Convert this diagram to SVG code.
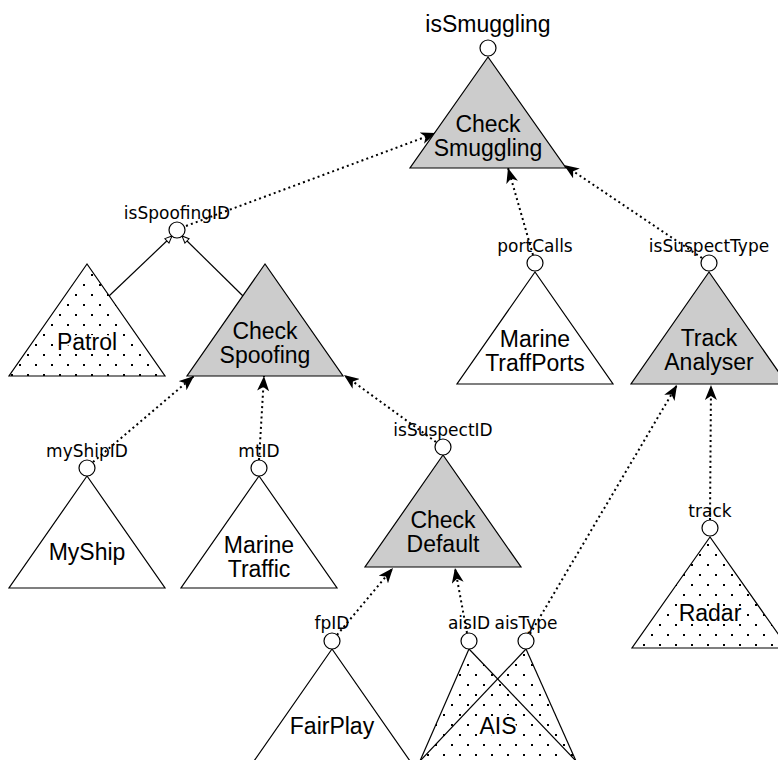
<svg xmlns="http://www.w3.org/2000/svg" width="778" height="760" viewBox="0 0 778 760">
<style>
.tri{stroke:#000;stroke-width:1.2;stroke-linejoin:miter}
.gray{fill:#cccccc}
.white{fill:#ffffff}
.dots{fill:url(#dotpat)}
.port{fill:#fff;stroke:#000;stroke-width:1.2}
.plab{font-family:"DejaVu Sans",sans-serif;font-size:17px;text-anchor:middle;fill:#000}
.nlab{font-family:"Liberation Sans",Arial,sans-serif;font-size:23px;text-anchor:middle;fill:#000}
.halo{stroke:#fff;stroke-width:4;paint-order:stroke;stroke-linejoin:round}
.dep{fill:none;stroke:#000;stroke-width:2;stroke-dasharray:2 3.2;marker-end:url(#arr)}
.sub{fill:none;stroke:#000;stroke-width:1.2;marker-end:url(#open)}
</style>
<defs>
<pattern id="dotpat" width="16" height="20" patternUnits="userSpaceOnUse">
<rect x="3" y="4" width="2" height="2" fill="#000"/>
<rect x="11" y="14" width="2" height="2" fill="#000"/>
</pattern>
<marker id="arr" markerWidth="16" markerHeight="12" refX="15" refY="6" orient="auto" markerUnits="userSpaceOnUse">
<path d="M0,0 L15,6 L0,12 L4,6 z" fill="#000"/>
</marker>
<marker id="open" markerWidth="9" markerHeight="8" refX="8" refY="4" orient="auto" markerUnits="userSpaceOnUse">
<path d="M1,1 L8,4 L1,7 z" fill="#fff" stroke="#000" stroke-width="1"/>
</marker>
</defs>
<rect width="778" height="760" fill="#fff"/>

<g id="connectors">
<line class="dep" x1="186" y1="226" x2="436" y2="133"/>
<line class="dep" x1="533" y1="255" x2="508" y2="168"/>
<line class="dep" x1="702" y1="258" x2="564" y2="165"/>
<line class="dep" x1="93" y1="462" x2="194" y2="376"/>
<line class="dep" x1="259" y1="460" x2="264" y2="376"/>
<line class="dep" x1="436" y1="442" x2="344" y2="375"/>
<line class="dep" x1="337" y1="635" x2="393" y2="568"/>
<line class="dep" x1="467" y1="633" x2="455" y2="568"/>
<line class="dep" x1="530" y1="634" x2="677" y2="385"/>
<line class="dep" x1="710" y1="520" x2="711" y2="385"/>
</g>

<g id="CheckSmuggling">
<polygon class="tri gray" points="488,57 410,168 566,168"/>
<circle class="port" cx="488" cy="48" r="8"/>
<text class="nlab" x="488" y="32">isSmuggling</text>
<text class="nlab" x="488" y="132">Check</text>
<text class="nlab" x="488" y="156">Smuggling</text>
</g>

<g id="isSpoofingID">
<line class="sub" x1="109" y1="296" x2="172" y2="236"/>
<line class="sub" x1="243" y1="296" x2="182" y2="236"/>
<circle class="port" cx="177" cy="230" r="8"/>
<text class="plab" x="177" y="219">isSpoofingID</text>
</g>

<g id="Patrol">
<polygon class="tri white" points="87,264 9,376 165,376"/>
<polygon class="dots" points="87,264 9,376 165,376"/>
<text class="nlab halo" x="87" y="350">Patrol</text>
</g>

<g id="CheckSpoofing">
<polygon class="tri gray" points="265,264 187,376 343,376"/>
<text class="nlab" x="265" y="339">Check</text>
<text class="nlab" x="265" y="363">Spoofing</text>
</g>

<g id="MarineTraffPorts">
<polygon class="tri white" points="535,272 457,384 613,384"/>
<circle class="port" cx="535" cy="263" r="8"/>
<text class="plab" x="535" y="252">portCalls</text>
<text class="nlab" x="535" y="347">Marine</text>
<text class="nlab" x="535" y="371">TraffPorts</text>
</g>

<g id="TrackAnalyser">
<polygon class="tri gray" points="709,272 631,384 787,384"/>
<circle class="port" cx="709" cy="263" r="8"/>
<text class="plab" x="709" y="252">isSuspectType</text>
<text class="nlab" x="709" y="346">Track</text>
<text class="nlab" x="709" y="370">Analyser</text>
</g>

<g id="MyShip">
<polygon class="tri white" points="87,476 9,588 165,588"/>
<circle class="port" cx="87" cy="468" r="8"/>
<text class="plab" x="87" y="457">myShipID</text>
<text class="nlab" x="87" y="560">MyShip</text>
</g>

<g id="MarineTraffic">
<polygon class="tri white" points="259,476 181,588 337,588"/>
<circle class="port" cx="259" cy="468" r="8"/>
<text class="plab" x="259" y="457">mtID</text>
<text class="nlab" x="259" y="553">Marine</text>
<text class="nlab" x="259" y="577">Traffic</text>
</g>

<g id="CheckDefault">
<polygon class="tri gray" points="443,455 365,567 521,567"/>
<circle class="port" cx="443" cy="447" r="8"/>
<text class="plab" x="443" y="436">isSuspectID</text>
<text class="nlab" x="443" y="528">Check</text>
<text class="nlab" x="443" y="552">Default</text>
</g>

<g id="Radar">
<polygon class="tri white" points="710,537 632,648 788,648"/>
<polygon class="dots" points="710,537 632,648 788,648"/>
<circle class="port" cx="710" cy="528" r="8"/>
<text class="plab" x="710" y="517">track</text>
<text class="nlab halo" x="710" y="621">Radar</text>
</g>

<g id="FairPlay">
<polygon class="tri white" points="332,649 254,761 410,761"/>
<circle class="port" cx="332" cy="641" r="8"/>
<text class="plab" x="332" y="629">fpID</text>
<text class="nlab" x="332" y="734">FairPlay</text>
</g>

<g id="AIS">
<polygon fill="#fff" points="420,761 469,649 497.6,678.7 526,649 576,761"/>
<polygon class="dots" points="420,761 469,649 497.6,678.7 526,649 576,761"/>
<g stroke="#000" stroke-width="1.2" fill="none">
<line x1="469" y1="649" x2="420" y2="761"/>
<line x1="469" y1="649" x2="576" y2="761"/>
<line x1="526" y1="649" x2="420" y2="761"/>
<line x1="526" y1="649" x2="576" y2="761"/>
</g>
<circle class="port" cx="469" cy="641" r="8"/>
<circle class="port" cx="526" cy="641" r="8"/>
<text class="plab" x="469" y="629">aisID</text>
<text class="plab" x="526" y="629">aisType</text>
<text class="nlab halo" x="498" y="734">AIS</text>
</g>
</svg>
